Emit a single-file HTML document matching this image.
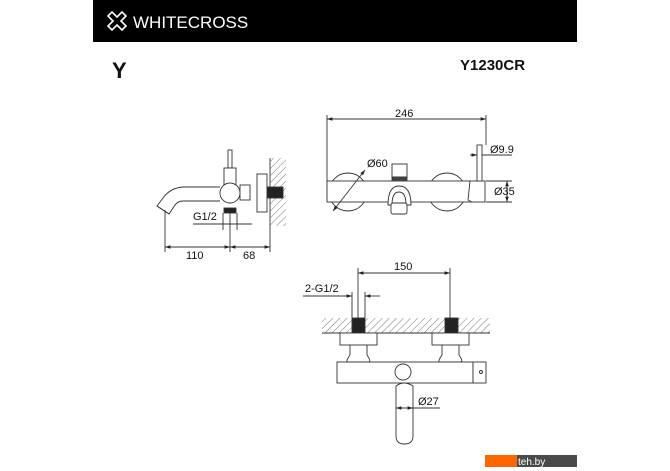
<!DOCTYPE html>
<html><head><style>
html,body{margin:0;padding:0;background:#fff;}
svg{display:block;}
text{font-family:"Liberation Sans",Arial,sans-serif;fill:#111;}
</style></head><body>
<svg width="670" height="471" viewBox="0 0 670 471" xmlns="http://www.w3.org/2000/svg">
<defs>
<pattern id="h" width="5" height="5" patternUnits="userSpaceOnUse" patternTransform="rotate(45)">
<line x1="0" y1="0" x2="0" y2="5" stroke="#555" stroke-width="0.8"/>
</pattern>
<marker id="a" markerWidth="6" markerHeight="6" refX="6" refY="3" orient="auto-start-reverse"><path d="M0,1 L6,3 L0,5" fill="#222"/></marker>
</defs>
<rect x="93" y="0" width="484" height="42" fill="#000"/>
<g transform="translate(108,12)" stroke="#fff" stroke-width="1.6" fill="none">
<path d="M4,0 L9,5 L14,0 L18,4 L13,9 L18,14 L14,18 L9,13 L4,18 L0,14 L5,9 L0,4 Z"/>
</g>
<text x="133" y="28" font-size="17" style="fill:#fff">WHITECROSS</text>
<text x="112" y="78" font-size="22" font-weight="bold">Y</text>
<text x="460" y="70" font-size="15" font-weight="bold">Y1230CR</text>

<g stroke="#333" stroke-width="0.9" fill="none">
<!-- LEFT VIEW -->
<rect x="228" y="150" width="4" height="18" fill="#fff"/>
<rect x="224" y="168" width="12" height="17" fill="#fff"/>
<path d="M220,187 L183,187 Q170,188 163,198 L157,206 L169,214 L175,205 Q178,201 183,201 L220,201"/>
<path d="M157,206 L169,214"/>
<circle cx="230" cy="193" r="10" fill="#fff"/>
<rect x="224" y="208" width="12" height="5" fill="#222"/>
<rect x="240" y="185" width="10" height="15" fill="#fff"/>
<rect x="257" y="174" width="10" height="38" fill="#fff"/>
<rect x="270" y="158" width="16" height="68" fill="url(#h)" stroke="none"/>
<line x1="270" y1="158" x2="270" y2="226"/>
<rect x="267" y="187" width="16" height="11" fill="#222"/>
<line x1="223" y1="213" x2="223" y2="230"/><line x1="237" y1="213" x2="237" y2="230"/>
<line x1="193" y1="224" x2="252" y2="224"/>
<line x1="165" y1="210" x2="165" y2="252"/>
<line x1="230" y1="213" x2="230" y2="252"/>
<line x1="270" y1="226" x2="270" y2="252"/>
<line x1="165" y1="247" x2="230" y2="247" marker-start="url(#a)" marker-end="url(#a)"/>
<line x1="230" y1="247" x2="270" y2="247" marker-start="url(#a)" marker-end="url(#a)"/>

<!-- MIDDLE VIEW -->
<line x1="327" y1="119" x2="486" y2="119" marker-start="url(#a)" marker-end="url(#a)"/>
<line x1="327" y1="115" x2="327" y2="202"/>
<line x1="486" y1="115" x2="486" y2="145"/>
<circle cx="348" cy="192" r="19"/>
<circle cx="447" cy="192" r="19"/>
<rect x="327" y="181" width="158" height="21" fill="#fff"/>
<rect x="477" y="145" width="5" height="36" fill="#fff"/>
<path d="M470,181 L468,200 L472,202"/>
<rect x="392" y="164" width="15" height="13" fill="#fff"/>
<rect x="392" y="177" width="15" height="3" fill="#444"/>
<path d="M388,205 Q388,186 399,186 Q411,186 411,205 Z" fill="#fff"/>
<path d="M392,205 Q392,192 399,192 Q406,192 406,205"/>
<rect x="391" y="203" width="16" height="11" rx="2" fill="#fff"/>
<line x1="470" y1="155" x2="477" y2="155" marker-end="url(#a)"/>
<line x1="482" y1="155" x2="512" y2="155"/>
<line x1="365" y1="170" x2="333" y2="211" marker-start="url(#a)" marker-end="url(#a)"/>
<line x1="486" y1="181" x2="512" y2="181"/>
<line x1="486" y1="202" x2="512" y2="202"/>
<line x1="507" y1="181" x2="507" y2="202" marker-start="url(#a)" marker-end="url(#a)"/>

<!-- BOTTOM VIEW -->
<line x1="358" y1="273" x2="450" y2="273" marker-start="url(#a)" marker-end="url(#a)"/>
<line x1="358" y1="268" x2="358" y2="318"/>
<line x1="450" y1="268" x2="450" y2="318"/>
<line x1="303" y1="296" x2="352" y2="296" marker-end="url(#a)"/>
<line x1="365" y1="296" x2="380" y2="296" marker-start="url(#a)"/>
<line x1="352" y1="292" x2="352" y2="318"/><line x1="365" y1="292" x2="365" y2="318"/>
<rect x="322" y="318" width="168" height="15" fill="url(#h)" stroke="none"/>
<line x1="322" y1="333" x2="490" y2="333"/>
<rect x="352" y="318" width="13" height="15" fill="#222"/>
<rect x="445" y="318" width="13" height="15" fill="#222"/>
<rect x="340" y="333" width="37" height="12" fill="#fff"/>
<rect x="432" y="333" width="37" height="12" fill="#fff"/>
<path d="M350,345 L350,355 Q345,362 348,362 L368,362 Q372,362 367,355 L367,345"/>
<path d="M442,345 L442,355 Q437,362 440,362 L460,362 Q464,362 459,355 L459,345"/>
<rect x="337" y="362" width="136" height="21" fill="#fff"/>
<rect x="473" y="362" width="13" height="21" fill="#fff"/>
<circle cx="481" cy="372" r="1.5"/>
<circle cx="403" cy="372" r="8" fill="#fff"/>
<path d="M396,386 Q404,380 413,386 L413,436 Q413,444 404.5,444 Q396,444 396,436 Z" fill="#fff"/>
<line x1="396" y1="408" x2="413" y2="408" marker-start="url(#a)" marker-end="url(#a)"/>
<line x1="413" y1="408" x2="440" y2="408"/>
</g>
<g font-size="11">
<text x="193" y="220">G1/2</text>
<text x="186" y="259">110</text>
<text x="243" y="259">68</text>
<text x="395" y="117">246</text>
<text x="490" y="153">Ø9.9</text>
<text x="367" y="167">Ø60</text>
<text x="494" y="195">Ø35</text>
<text x="394" y="270">150</text>
<text x="305" y="292">2-G1/2</text>
<text x="418" y="405">Ø27</text>
</g>
<rect x="485" y="455" width="32" height="12" fill="#ff6600"/>
<rect x="517" y="455" width="60" height="12" fill="#4a4a4a"/>
<text x="518" y="465" font-size="10" style="fill:#fff">teh.by</text>
</svg>
</body></html>
